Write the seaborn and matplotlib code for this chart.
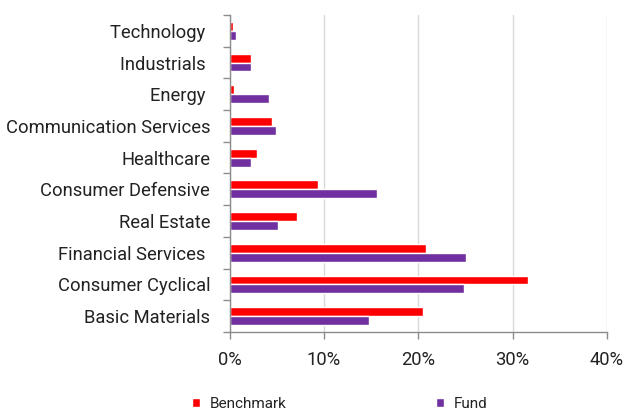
import matplotlib
matplotlib.use("Agg")
import matplotlib.pyplot as plt
import seaborn as sns
import pandas as pd
from matplotlib.ticker import FuncFormatter, FixedLocator

categories = ["Technology ", "Industrials ", "Energy ", "Communication Services",
              "Healthcare", "Consumer Defensive", "Real Estate", "Financial Services ",
              "Consumer Cyclical", "Basic Materials"]
benchmark = [0.34, 2.3, 0.5, 4.5, 2.9, 9.35, 7.1, 20.8, 31.65, 20.5]
fund = [0.65, 2.3, 4.2, 4.9, 2.25, 15.6, 5.15, 25.1, 24.9, 14.8]
series_names = ["Benchmark", "Fund"]
colors = ["#FF0000", "#7030A0"]
x_ticks = [0, 10, 20, 30, 40]

df = pd.DataFrame({
    "Sector": categories * 2,
    "Value": benchmark + fund,
    "Series": [series_names[0]] * len(categories) + [series_names[1]] * len(categories),
})

sns.set_theme(style="white")
plt.rcParams["font.family"] = ["Roboto", "DejaVu Sans"]
FS = 13.2
XFS = 13.2
LFS = 11
TXT = "#222222"

fig = plt.figure(figsize=(6.27, 4.12), dpi=100)
ax = fig.add_axes([229.5 / 627, 1 - 332 / 412, (607 - 229.5) / 627, (332 - 15) / 412])

sns.barplot(data=df, y="Sector", x="Value", hue="Series", order=categories,
            hue_order=series_names, palette=colors, orient="h", width=0.56,
            saturation=1, ax=ax, legend=True)

ax.set_xlim(0, 40)
ax.set_ylim(len(categories) - 0.5, -0.5)
ax.xaxis.set_major_locator(FixedLocator(x_ticks))
ax.xaxis.set_major_formatter(FuncFormatter(lambda v, p: f"{int(v)}%"))
ax.set_xlabel("")
ax.set_ylabel("")
ax.grid(axis="x", color="#d9d9d9", linewidth=1)
ax.set_axisbelow(True)

for s in ["top", "right"]:
    ax.spines[s].set_visible(False)
for s in ["left", "bottom"]:
    ax.spines[s].set_color("#8c8c8c")
    ax.spines[s].set_linewidth(1)

ax.tick_params(axis="x", which="major", length=5, color="#8c8c8c", width=1,
               labelsize=XFS, labelcolor=TXT, pad=9, direction="out", bottom=True)
ax.tick_params(axis="y", which="major", length=0, labelsize=FS, labelcolor=TXT, pad=14)
ax.yaxis.set_minor_locator(FixedLocator([i + 0.5 for i in range(-1, len(categories))]))
ax.tick_params(axis="y", which="minor", length=5, color="#8c8c8c", width=1, left=True)

handles, labels = ax.get_legend_handles_labels()
ax.get_legend().remove()
fig.legend(handles, labels, loc="center left", bbox_to_anchor=(192 / 627, 1 - 404 / 412),
           ncol=2, frameon=False, handlelength=0.55, handleheight=0.55, handletextpad=0.6,
           columnspacing=9.8, fontsize=LFS, labelcolor=TXT, borderaxespad=0, borderpad=0)

fig.savefig("out.png", dpi=100)
